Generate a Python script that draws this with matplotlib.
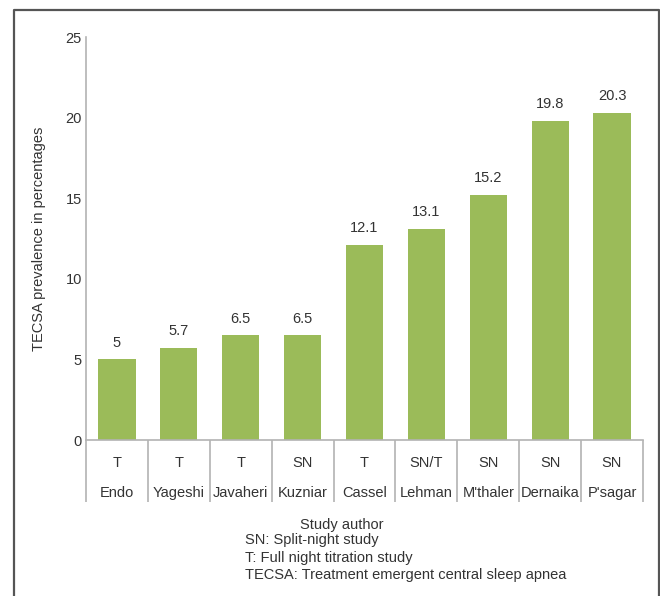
import matplotlib.pyplot as plt
import matplotlib.transforms as mtransforms
from matplotlib.lines import Line2D

plt.rcParams['font.family'] = ['Liberation Sans', 'DejaVu Sans']

# data
authors = ['Endo', 'Yageshi', 'Javaheri', 'Kuzniar', 'Cassel', 'Lehman', "M'thaler", 'Dernaika', "P'sagar"]
study_types = ['T', 'T', 'T', 'SN', 'T', 'SN/T', 'SN', 'SN', 'SN']
prevalence = [5, 5.7, 6.5, 6.5, 12.1, 13.1, 15.2, 19.8, 20.3]
value_labels = ['5', '5.7', '6.5', '6.5', '12.1', '13.1', '15.2', '19.8', '20.3']
yticks = [0, 5, 10, 15, 20, 25]
footnotes = ['SN: Split-night study', 'T: Full night titration study',
             'TECSA: Treatment emergent central sleep apnea']

bar_color = '#9bbb59'
text_color = '#333333'
grid_gray = '#b3b3b3'
fs = 10.5

fig = plt.figure(figsize=(6.6, 5.96), dpi=100)
ax = fig.add_axes([0.1303, 0.2617, 0.8439, 0.6762])

x = list(range(len(authors)))
ax.bar(x, prevalence, width=0.6, color=bar_color, zorder=2)
for xi, v, lab in zip(x, prevalence, value_labels):
    ax.annotate(lab, (xi, v), xytext=(0, 7), textcoords='offset points',
                ha='center', va='bottom', fontsize=fs, color=text_color)

ax.set_xlim(-0.5, len(authors) - 0.5)
ax.set_ylim(0, 25)
ax.set_yticks(yticks)
ax.set_xticks([])
ax.tick_params(axis='y', labelsize=fs, labelcolor=text_color, length=0, pad=3)
for s in ['top', 'right']:
    ax.spines[s].set_visible(False)
for s in ['left', 'bottom']:
    ax.spines[s].set_color(grid_gray)
    ax.spines[s].set_linewidth(1.2)
ax.set_ylabel('TECSA prevalence in percentages', fontsize=fs, color=text_color, labelpad=14)

# category table below the axis
trans = mtransforms.blended_transform_factory(ax.transData, ax.transAxes)
bounds = [i - 0.5 for i in range(len(authors) + 1)]
ax.vlines(bounds, -0.154, 0, transform=trans, colors=grid_gray, lw=1.2, clip_on=False)
for xi, t, a in zip(x, study_types, authors):
    ax.text(xi, -0.057, t, transform=trans, ha='center', va='center', fontsize=fs, color=text_color)
    ax.text(xi, -0.1315, a, transform=trans, ha='center', va='center', fontsize=fs, color=text_color)

fig.text(0.518, 0.119, 'Study author', ha='center', va='center', fontsize=fs, color=text_color)
for i, line in enumerate(footnotes):
    fig.text(0.371, 0.094 - i * 0.0295, line, ha='left', va='center', fontsize=fs, color=text_color)

# outer frame (open at the bottom)
fx0, fx1, fy1 = 14 / 660, 659 / 660, 1 - 10 / 596
fig.add_artist(Line2D([fx0, fx0, fx1, fx1], [0, fy1, fy1, 0], transform=fig.transFigure,
                      color='#555555', lw=1.6))

fig.savefig('out.png', dpi=100)
